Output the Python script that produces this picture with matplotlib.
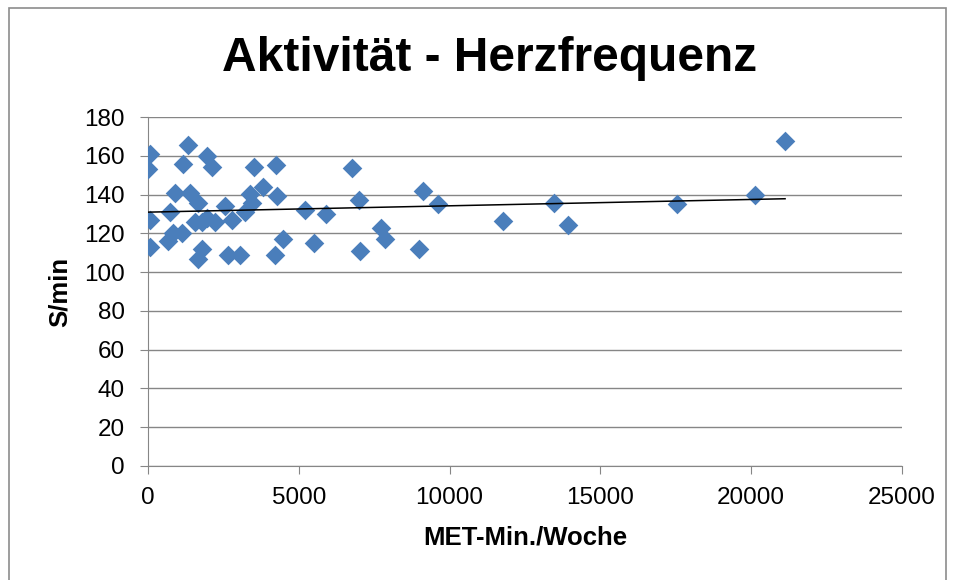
import numpy as np
import matplotlib
matplotlib.use("Agg")
import matplotlib.pyplot as plt
from matplotlib.patches import Rectangle

plt.rcParams['font.family'] = ['Liberation Sans', 'DejaVu Sans']

met = [0, 66, 66, 66, 674, 730, 840, 895, 1117, 1172, 1316, 1393, 1558, 1668, 1668,
       1780, 1780, 1945, 1945, 2133, 2222, 2553, 2664, 2775, 3050, 3217, 3382, 3438,
       3525, 3800, 4234, 4267, 4212, 4488, 5206, 5515, 5893, 6755, 7007, 7030, 7726,
       7859, 8997, 9130, 9627, 11772, 13463, 13928, 17542, 20128, 21123]
hr = [153, 161, 127, 113, 116, 131, 120, 141, 120, 156, 165.5, 140.6, 126, 135.5, 107,
      126, 112, 160, 128, 154, 126, 134, 109, 127, 109, 131, 140.5, 135.5,
      154, 144, 155, 139, 109, 117, 132, 115, 130, 153.5, 137, 111, 123,
      117, 112, 142, 135, 126.5, 135.5, 124.3, 135, 140, 167.5]

x_ticks = [0, 5000, 10000, 15000, 20000, 25000]
y_ticks = list(range(0, 181, 20))

fig = plt.figure(figsize=(9.56, 5.80), dpi=100)
ax = fig.add_axes([148/956, 1 - 466/580, (902 - 148)/956, (466 - 117)/580])

# chart frame (bottom edge lies outside the image)
fig.patches.append(Rectangle((9/956, -0.05), 937/956, 1.05 - 8/580, transform=fig.transFigure,
                             fill=False, edgecolor='#8c8c8c', linewidth=1.2))

ax.scatter(met, hr, marker='D', s=100, color='#4a7ebb', linewidths=0, zorder=3)

# linear trend line
k, d = np.polyfit(met, hr, 1)
xs = np.array([min(met), max(met)])
ax.plot(xs, k * xs + d, color='black', linewidth=1.1, zorder=4)

ax.set_xlim(0, 25000)
ax.set_ylim(0, 180)
ax.set_xticks(x_ticks)
ax.set_yticks(y_ticks)
ax.yaxis.grid(True, color='#868686', linewidth=1.0)
ax.set_axisbelow(True)
for s in ['top', 'right']:
    ax.spines[s].set_visible(False)
for s in ['left', 'bottom']:
    ax.spines[s].set_color('#868686')
ax.tick_params(axis='both', colors='#868686', labelcolor='black', labelsize=17.5,
               length=5.8, direction='out')
ax.tick_params(axis='x', pad=9)
ax.tick_params(axis='y', pad=11)

ax.set_xlabel('MET-Min./Woche', fontsize=18.5, fontweight='bold', labelpad=12)
ax.set_ylabel('S/min', fontsize=18.5, fontweight='bold', labelpad=9)
fig.text(490/956, 1 - 71/580, 'Aktivität - Herzfrequenz', fontsize=34.5, fontweight='bold',
         ha='center', va='baseline')

fig.savefig('out.png', dpi=100)
